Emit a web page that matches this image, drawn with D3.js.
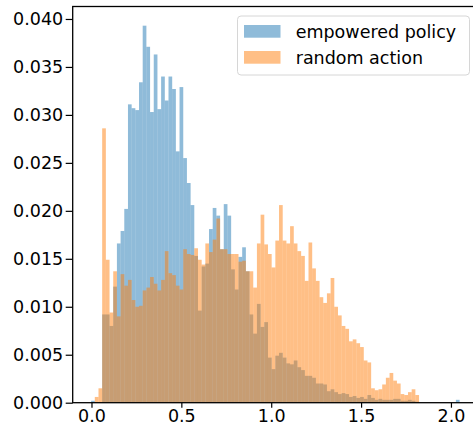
<!DOCTYPE html>
<html>
<head>
<meta charset="utf-8">
<script src="https://cdn.jsdelivr.net/npm/d3@7"></script>
<style>
  body { margin: 0; background: #fff; }
  svg { display: block; font-family: 'DejaVu Sans', sans-serif; }
</style>
</head>
<body>
<div id="chart"></div>
<script>
  // shared histogram bins (100 bins)
  const BIN_START = -0.002;
  const BIN_WIDTH = 0.0205;

  const empoweredPolicy = [
    0.0002, 0, 0, 0.0092, 0.0092, 0.0080, 0.0121, 0.0166, 0.0179, 0.0202,
    0.0311, 0.0307, 0.0305, 0.0334, 0.0393, 0.0371, 0.0303, 0.0363, 0.0306, 0.0340,
    0.0315, 0.0340, 0.0327, 0.0262, 0.0329, 0.0255, 0.0229, 0.0206, 0.0153, 0.0096,
    0.0142, 0.0145, 0.0181, 0.0203, 0.0195, 0.0160, 0.0207, 0.0195, 0.0139, 0.0118,
    0.0152, 0.0162, 0.0137, 0.0092, 0.0072, 0.0103, 0.0079, 0.0084, 0.0047, 0.0035,
    0.0049, 0.0052, 0.0047, 0.0041, 0.0040, 0.0044, 0.0037, 0.0034, 0.0028, 0.0028,
    0.0026, 0.0020, 0.0020, 0.0019, 0.0012, 0.0014, 0.0011, 0.0009, 0.0010, 0.0009,
    0.0006, 0.0007, 0.0005, 0.0006, 0.0004, 0.0008, 0.0005, 0.0003, 0.0004, 0.0003,
    0.0003, 0.0003, 0.0004, 0.0004, 0.0002, 0.0002, 0.0003, 0.0002, 0.0001, 0,
    0, 0, 0, 0, 0, 0, 0, 0, 0, 0.0003
  ];

  const randomAction = [
    0, 0.0006, 0.0015, 0.0286, 0.0149, 0.0094, 0.0137, 0.0090, 0.0134, 0.0122,
    0.0128, 0.0107, 0.0100, 0.0101, 0.0117, 0.0120, 0.0131, 0.0124, 0.0117, 0.0128,
    0.0158, 0.0135, 0.0133, 0.0122, 0.0118, 0.0160, 0.0155, 0.0154, 0.0161, 0.0149,
    0.0144, 0.0166, 0.0157, 0.0170, 0.0192, 0.0160, 0.0160, 0.0155, 0.0155, 0.0155,
    0.0147, 0.0148, 0.0137, 0.0137, 0.0120, 0.0166, 0.0196, 0.0165, 0.0155, 0.0141,
    0.0169, 0.0206, 0.0169, 0.0166, 0.0184, 0.0166, 0.0158, 0.0153, 0.0127, 0.0167,
    0.0140, 0.0127, 0.0110, 0.0104, 0.0114, 0.0130, 0.0100, 0.0091, 0.0080, 0.0077,
    0.0064, 0.0066, 0.0062, 0.0058, 0.0044, 0.0042, 0.0015, 0.0013, 0.0014, 0.0019,
    0.0026, 0.0031, 0.0023, 0.0020, 0.0009, 0.0008, 0.0011, 0.0014, 0.0008, 0,
    0, 0, 0, 0, 0, 0, 0, 0, 0, 0
  ];

  const seriesNames = ['empowered policy', 'random action'];
  const xTicks = [0, 0.5, 1.0, 1.5, 2.0];
  const yTicks = [0, 0.005, 0.010, 0.015, 0.020, 0.025, 0.030, 0.035, 0.040];

  (function () {
    const WIDTH = 473;
    const HEIGHT = 427;
    const plot = { left: 72.7, right: 478, top: 6.5, bottom: 402.7 };
    const COLORS = ['#1f77b4', '#ff7f0e'];
    const FONT_SIZE = 17.5;

    let svg = d3.select('#chart').append('svg')
      .attr('width', WIDTH)
      .attr('height', HEIGHT);

    let x = d3.scaleLinear()
      .domain([-0.1045, 2.1505])
      .range([plot.left, plot.right]);
    let y = d3.scaleLinear()
      .domain([0, 0.0413])
      .range([plot.bottom, plot.top]);

    function binsFor (values) {
      return values.map(function (v, i) {
        return { x0: BIN_START + i * BIN_WIDTH, x1: BIN_START + (i + 1) * BIN_WIDTH, value: v };
      });
    }

    function drawHistogram (values, color) {
      svg.append('g')
        .selectAll('rect')
        .data(binsFor(values).filter(function (d) { return d.value > 0; }))
        .join('rect')
        .attr('x', function (d) { return x(d.x0); })
        .attr('width', function (d) { return x(d.x1) - x(d.x0); })
        .attr('y', function (d) { return y(d.value); })
        .attr('height', function (d) { return y(0) - y(d.value); })
        .attr('fill', color)
        .attr('fill-opacity', 0.5);
    }

    drawHistogram(empoweredPolicy, COLORS[0]);
    drawHistogram(randomAction, COLORS[1]);

    // axes
    let xAxis = svg.append('g')
      .attr('transform', 'translate(0,' + plot.bottom + ')')
      .call(d3.axisBottom(x)
        .tickValues(xTicks)
        .tickFormat(d3.format('.1f'))
        .tickSizeInner(5)
        .tickSizeOuter(0)
        .tickPadding(2));
    let yAxis = svg.append('g')
      .attr('transform', 'translate(' + plot.left + ',0)')
      .call(d3.axisLeft(y)
        .tickValues(yTicks)
        .tickFormat(d3.format('.3f'))
        .tickSizeInner(7)
        .tickSizeOuter(0)
        .tickPadding(2.5));

    [xAxis, yAxis].forEach(function (axis) {
      axis.select('.domain').remove();
      axis.selectAll('line').attr('stroke', '#000').attr('stroke-width', 1.2);
      axis.selectAll('text')
        .attr('fill', '#000')
        .style('font-size', FONT_SIZE + 'px')
        .style('font-family', "'DejaVu Sans', sans-serif");
    });

    // spines
    svg.append('rect')
      .attr('x', plot.left)
      .attr('y', plot.top)
      .attr('width', plot.right - plot.left)
      .attr('height', plot.bottom - plot.top)
      .attr('fill', 'none')
      .attr('stroke', '#000')
      .attr('stroke-width', 1.3);

    // legend
    let legend = svg.append('g');
    legend.append('rect')
      .attr('x', 237.5)
      .attr('y', 16)
      .attr('width', 232)
      .attr('height', 59)
      .attr('rx', 3.5)
      .attr('fill', '#fff')
      .attr('fill-opacity', 0.8)
      .attr('stroke', '#d6d6d6')
      .attr('stroke-width', 1);

    seriesNames.forEach(function (name, i) {
      let rowY = 25 + i * 26;
      legend.append('rect')
        .attr('x', 244)
        .attr('y', rowY)
        .attr('width', 36.5)
        .attr('height', 12.7)
        .attr('fill', COLORS[i])
        .attr('fill-opacity', 0.5);
      legend.append('text')
        .attr('x', 295.7)
        .attr('y', rowY + 12.6)
        .style('font-size', FONT_SIZE + 'px')
        .text(name);
    });
  }());
</script>
</body>
</html>
